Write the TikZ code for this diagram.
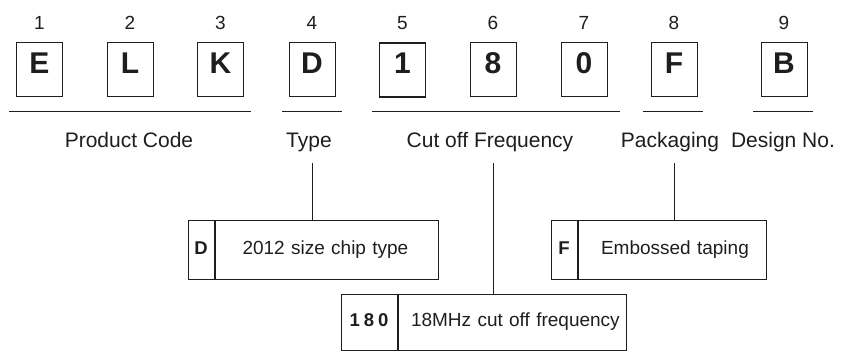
\documentclass[tikz,border=0pt]{standalone}
\usepackage{fontspec}
\setmainfont{Liberation Sans}
\definecolor{ink}{HTML}{1E1E1E}
\tikzset{
  codebox/.style={draw=ink, line width=1pt, minimum width=46pt, minimum height=54pt, inner sep=0pt,
    text height=0.716em, text depth=0pt,
    font=\fontsize{30}{32}\selectfont\bfseries, text=ink},
  numlab/.style={font=\fontsize{19}{21}\selectfont, text=ink, inner sep=0pt, anchor=base},
  grouplab/.style={font=\fontsize{21}{23}\selectfont, text=ink, inner sep=0pt, anchor=base},
  keycell/.style={draw=ink, line width=1pt, inner sep=0pt, text height=0.716em, text depth=0pt,
    font=\fontsize{18.5}{20}\selectfont\bfseries, text=ink},
  desccell/.style={draw=ink, line width=1pt, inner sep=0pt, anchor=west, align=left,
    text height=0.716em, text depth=0pt,
    font=\fontsize{19}{21}\selectfont, text=ink},
  uline/.style={draw=ink, line width=1pt},
  conn/.style={draw=ink, line width=1pt},
}
\begin{document}
\begin{tikzpicture}[x=1pt, y=-1pt]
\useasboundingbox (0,0) rectangle (846,352);
% code boxes
\foreach \n/\x/\c in {e/39.5/E, l/130/L, k/220.5/K, d/312/D, a/402.5/1, b/493/8, c/584/0, f/674/F, g/784/B}{
  \node[codebox] (box\n) at (\x,70) {\c};
}
\node[codebox, line width=1.6pt] at (boxa) {};
% numbers
\foreach \n/\k in {e/1, l/2, k/3, d/4, a/5, b/6, c/7, f/8, g/9}{
  \node[numlab] (num\n) at (box\n |- 0,30) {\k};
}
% underlines
\draw[uline] (9,112) -- (251,112);
\draw[uline] (282,112) -- (342,112);
\draw[uline] (372,112) -- (620,112);
\draw[uline] (643,112) -- (703,112);
\draw[uline] (753,112) -- (813,112);
% group labels
\node[grouplab] (lprod) at (129,148) {Product Code};
\node[grouplab] (ltype) at (309,148) {Type};
\node[grouplab] (lcut) at (490,148) {Cut off Frequency};
\node[grouplab] (lpack) at (670,148) {Packaging};
\node[grouplab] (ldes) at (783,148) {Design No.};
% description boxes
\node[keycell, minimum width=26pt, minimum height=59pt] (kd) at (201,250.5) {D};
\node[desccell, minimum width=223pt, minimum height=59pt, text width=204pt] (dd) at (kd.east) {\hspace*{18pt}2012 size chip type};
\node[keycell, minimum width=26pt, minimum height=59pt] (kf) at (564,250.5) {F};
\node[desccell, minimum width=188pt, minimum height=59pt, text width=172pt] (df) at (kf.east) {\hspace*{15pt}Embossed taping};
\node[keycell, minimum width=56pt, minimum height=56pt] (kc) at (369,323) {1\kern4pt8\kern4pt0};
\node[desccell, minimum width=228pt, minimum height=56pt, text width=218pt] (dc) at (kc.east) {\hspace*{8pt}18MHz cut off frequency};
% connectors
\coordinate (ct) at (312,163);
\coordinate (cc) at (493,163);
\coordinate (cp) at (674,163);
\draw[conn] (ct) -- (ct |- dd.north);
\draw[conn] (cc) -- (cc |- dc.north);
\draw[conn] (cp) -- (cp |- df.north);
\end{tikzpicture}
\end{document}
